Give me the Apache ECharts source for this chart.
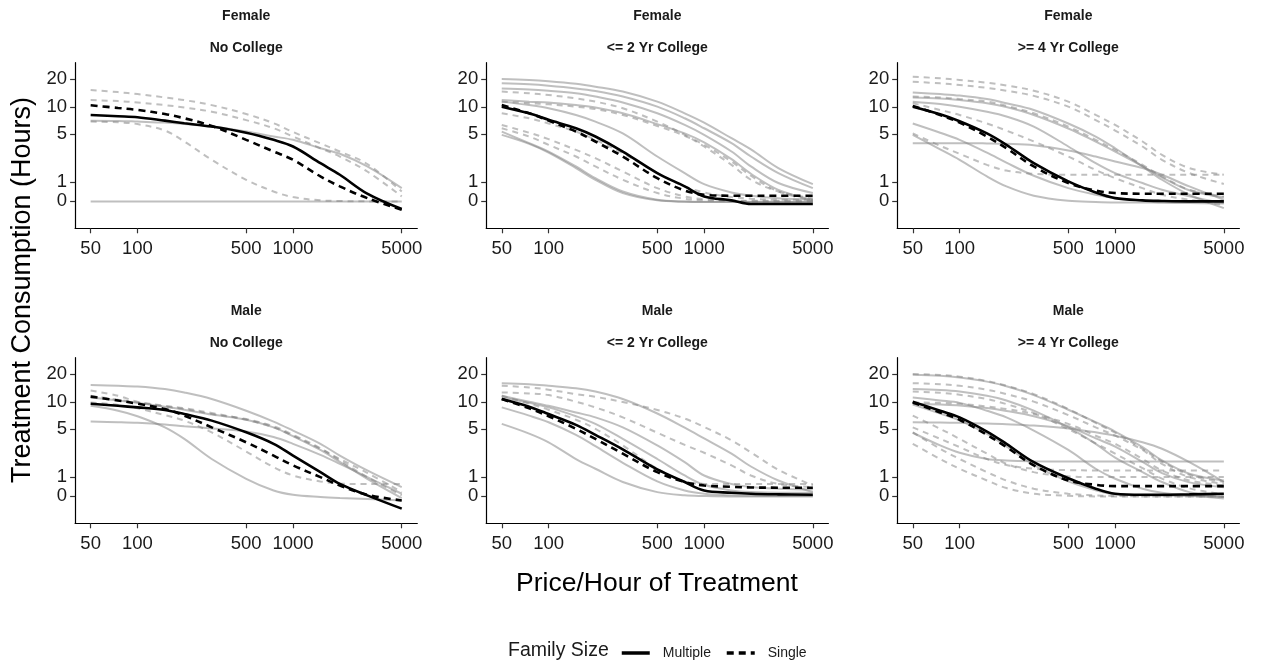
<!DOCTYPE html>
<html>
<head>
<meta charset="utf-8">
<script src="https://cdn.jsdelivr.net/npm/echarts@6/dist/echarts.min.js"></script>
<style>
  html, body { margin: 0; padding: 0; background: #fff; }
  #chart { width: 1261px; height: 664px; }
</style>
</head>
<body>
<div id="chart"></div>
<script>
// ---------------- DATA ----------------
const prices = [50, 75, 100, 150, 200, 300, 500, 750, 1000, 1500, 2000, 3000, 5000];
const xTickValues = [50, 100, 500, 1000, 5000];
const yTickValues = [0, 1, 5, 10, 20];
const sexLabels = ['Female', 'Male'];
const educationLabels = ['No College', '<= 2 Yr College', '>= 4 Yr College'];
const familySizes = ['Multiple', 'Single'];

// Female, No College
const femNoColMultiple = [8.2, 7.93, 7.74, 7.1, 6.65, 6.1, 5.2, 4.3, 3.58, 2.16, 1.4, 0.38, -0.38];
const femNoColSingle = [10.45, 9.78, 9.3, 8.4, 7.54, 6.2, 4.3, 3.1, 2.41, 1.3, 0.75, 0.16, -0.41];
const femNoColOthersMultiple = [
  [0, 0, 0, 0, 0, 0, 0, 0, 0, 0, 0, 0, 0],
  [7.1, 7.05, 6.93, 6.75, 6.5, 6.1, 5.36, 4.7, 4.3, 3.41, 2.9, 1.93, 0.66]
];
const femNoColOthersSingle = [
  [15.3, 14.5, 13.8, 12.7, 11.9, 10.5, 8.4, 6.65, 5.3, 3.9, 3.1, 2.1, 0.49],
  [11.9, 11.6, 11.2, 10.5, 9.9, 8.9, 7.2, 5.84, 4.7, 3.41, 2.67, 1.6, 0.245],
  [6.93, 6.8, 6.5, 5.5, 4.11, 2.41, 1.11, 0.49, 0.21, 0.05, 0.02, 0, 0]
];

// Female, <= 2 Yr College
const femLe2Multiple = [10.1, 8.55, 7.25, 5.84, 4.7, 3.1, 1.5, 0.75, 0.245, 0.05, -0.13, -0.13, -0.13];
const femLe2Single = [10.5, 8.55, 7.1, 5.36, 4.11, 2.67, 1.2, 0.54, 0.327, 0.28, 0.28, 0.28, 0.28];
const femLe2OthersMultiple = [
  [20, 19.6, 19.0, 17.8, 16.6, 14.7, 11.45, 8.55, 6.75, 4.49, 3.3, 1.82, 0.87],
  [18.1, 17.6, 17.0, 15.9, 14.9, 13.0, 10.1, 7.54, 5.84, 3.93, 2.67, 1.5, 0.66],
  [15.9, 15.5, 15.0, 14.1, 13.0, 11.2, 8.55, 6.36, 4.91, 3.1, 1.93, 0.93, 0.41],
  [11.9, 11.45, 11.2, 10.5, 9.9, 8.55, 6.5, 5.1, 4.0, 2.46, 1.46, 0.575, 0.08],
  [11.45, 10.5, 9.7, 8.2, 6.93, 5.1, 2.67, 1.5, 0.87, 0.44, 0.28, 0.15, 0.08],
  [5.36, 3.93, 3.1, 1.93, 1.2, 0.49, 0.08, 0, -0.02, -0.02, -0.02, -0.02, -0.02],
  [4.91, 3.85, 3.0, 1.82, 1.11, 0.41, 0.05, -0.02, -0.03, -0.03, -0.03, -0.03, -0.03]
];
const femLe2OthersSingle = [
  [14.7, 14.1, 13.5, 12.4, 11.45, 9.7, 6.93, 4.91, 3.58, 2.04, 1.11, 0.49, 0.16],
  [11.45, 11.0, 10.7, 10.1, 9.5, 8.2, 6.2, 4.8, 3.75, 2.28, 1.34, 0.49, 0.05],
  [8.55, 7.54, 6.6, 5.36, 4.3, 2.95, 1.5, 0.75, 0.44, 0.21, 0.13, 0.08, 0.08],
  [6.36, 5.2, 4.38, 3.25, 2.54, 1.6, 0.66, 0.245, 0.11, 0.05, 0.03, 0.03, 0.03],
  [5.84, 4.7, 3.75, 2.67, 1.93, 1.11, 0.41, 0.13, 0.05, 0.02, 0, 0, 0]
];

// Female, >= 4 Yr College
const femGe4Multiple = [10.1, 8.35, 7.0, 5.1, 3.75, 2.16, 1.02, 0.44, 0.16, 0.05, 0.02, 0, 0];
const femGe4Single = [10.3, 8.2, 6.75, 4.7, 3.41, 1.93, 0.93, 0.54, 0.41, 0.38, 0.38, 0.38, 0.38];
const femGe4OthersMultiple = [
  [14.4, 13.8, 13.3, 12.2, 11.0, 9.3, 6.6, 4.7, 3.41, 1.93, 1.11, 0.327, -0.33],
  [12.7, 12.4, 11.9, 11.0, 10.0, 8.2, 5.8, 4.1, 3.1, 1.95, 1.25, 0.55, 0.2],
  [11.45, 10.8, 10.1, 8.9, 7.9, 6.1, 3.58, 2.16, 1.5, 0.93, 0.575, 0.245, -0.08],
  [6.6, 5.2, 4.3, 3.0, 2.2, 1.34, 0.66, 0.327, 0.16, 0.05, 0, 0, 0],
  [3.93, 3.93, 3.93, 3.9, 3.86, 3.71, 3.2, 2.67, 2.28, 1.82, 1.4, 0.75, 0.08],
  [4.91, 3.3, 2.41, 1.3, 0.75, 0.28, 0.03, -0.03, -0.05, -0.05, -0.07, -0.08, -0.11]
];
const femGe4OthersSingle = [
  [21.2, 20.4, 19.6, 18.3, 17.1, 15.0, 11.45, 8.2, 6.36, 4.11, 2.81, 1.82, 1.4],
  [18.75, 18.0, 17.3, 16.1, 15.0, 13.2, 10.1, 7.2, 5.5, 3.58, 2.41, 1.5, 0.88],
  [13.0, 12.7, 12.2, 11.45, 10.3, 8.55, 6.1, 4.3, 3.25, 2.04, 1.3, 0.575, 0.245],
  [11.0, 9.3, 8.2, 6.6, 5.5, 4.11, 2.67, 1.7, 1.2, 0.66, 0.327, 0.08, -0.16],
  [5.1, 3.65, 2.9, 2.04, 1.66, 1.46, 1.4, 1.4, 1.4, 1.4, 1.4, 1.4, 1.4]
];

// Male, No College
const maleNoColMultiple = [9.6, 9.1, 8.75, 8.2, 7.4, 6.25, 4.6, 3.35, 2.35, 1.26, 0.62, 0.05, -0.61];
const maleNoColSingle = [11.45, 10.4, 9.6, 8.4, 7.1, 5.25, 3.5, 2.35, 1.67, 0.98, 0.54, 0.08, -0.2];
const maleNoColOthersMultiple = [
  [15.3, 15.0, 14.7, 13.8, 12.7, 10.8, 8.05, 6.1, 4.82, 3.35, 2.35, 1.36, 0.46],
  [11.2, 10.4, 9.8, 8.9, 8.25, 7.3, 6.4, 5.25, 4.15, 2.8, 1.9, 0.89, -0.08],
  [9.1, 8.05, 7.0, 5.25, 3.85, 2.1, 0.89, 0.29, 0.08, -0.03, -0.08, -0.13, -0.2],
  [6.1, 6.0, 5.9, 5.65, 5.4, 5.1, 4.7, 4.05, 3.35, 2.41, 1.77, 0.98, 0.13]
];
const maleNoColOthersSingle = [
  [13.3, 11.7, 10.1, 9.1, 8.55, 7.6, 6.4, 5.25, 4.2, 2.9, 2.1, 1.22, 0.21],
  [11.7, 10.6, 9.9, 8.95, 8.4, 7.4, 6.5, 5.4, 4.3, 2.95, 2.0, 0.98, 0.05],
  [9.9, 9.3, 8.55, 7.2, 6.25, 4.6, 2.67, 1.56, 1.07, 0.75, 0.64, 0.61, 0.61]
];

// Male, <= 2 Yr College
const maleLe2Multiple = [10.8, 8.9, 7.4, 5.6, 4.3, 2.85, 1.42, 0.72, 0.29, 0.18, 0.13, 0.1, 0.08];
const maleLe2Single = [10.8, 8.55, 7.0, 5.05, 3.85, 2.5, 1.26, 0.72, 0.54, 0.475, 0.44, 0.43, 0.43];
const maleLe2OthersMultiple = [
  [16.0, 15.6, 15.0, 14.1, 13.0, 10.8, 7.5, 5.2, 3.9, 2.5, 1.6, 0.8, 0.21],
  [11.7, 10.1, 9.1, 7.7, 6.8, 5.25, 3.2, 1.88, 1.07, 0.62, 0.46, 0.38, 0.34],
  [11.2, 9.8, 8.75, 7.0, 5.75, 3.85, 2.1, 1.07, 0.575, 0.29, 0.21, 0.18, 0.18],
  [8.75, 7.1, 6.0, 4.3, 3.13, 1.84, 0.75, 0.29, 0.13, 0.05, 0.03, 0.02, 0.02],
  [5.75, 4.45, 3.5, 2.1, 1.46, 0.72, 0.21, 0.05, 0.02, 0, 0, 0, 0]
];
const maleLe2OthersSingle = [
  [15.0, 14.4, 13.6, 12.2, 11.4, 10.0, 8.2, 6.6, 5.3, 3.7, 2.6, 1.4, 0.54],
  [12.7, 12.4, 11.9, 10.1, 8.75, 6.8, 4.55, 3.25, 2.57, 1.67, 1.07, 0.62, 0.46],
  [11.7, 9.6, 8.25, 6.4, 5.05, 3.2, 1.46, 0.75, 0.62, 0.61, 0.61, 0.61, 0.61]
];

// Male, >= 4 Yr College
const maleGe4Multiple = [10.1, 8.05, 6.8, 4.7, 3.35, 1.88, 0.92, 0.38, 0.13, 0.08, 0.08, 0.1, 0.13];
const maleGe4Single = [9.9, 7.7, 6.4, 4.3, 3.05, 1.67, 0.8, 0.575, 0.51, 0.51, 0.51, 0.51, 0.51];
const maleGe4OthersMultiple = [
  [19.7, 19.2, 18.4, 16.6, 14.8, 11.9, 8.25, 6.0, 4.7, 3.05, 2.0, 1.17, 0.8],
  [13.8, 13.5, 13.0, 11.7, 10.4, 8.05, 5.25, 3.35, 2.2, 1.26, 0.72, 0.21, -0.03],
  [11.2, 10.4, 9.8, 8.05, 6.8, 4.82, 2.8, 1.46, 0.89, 0.38, 0.18, 0.05, -0.03],
  [9.6, 9.4, 9.2, 8.6, 8.0, 7.0, 5.4, 3.9, 3.1, 1.9, 1.2, 0.7, 0.45],
  [6.0, 5.95, 5.9, 5.8, 5.7, 5.5, 5.1, 4.6, 4.2, 3.5, 2.9, 1.88, 0.72],
  [4.55, 3.2, 2.57, 2.1, 2.0, 1.95, 1.93, 1.93, 1.93, 1.93, 1.93, 1.93, 1.93],
  [9.4, 7.5, 6.3, 4.4, 3.1, 1.7, 0.75, 0.3, 0.1, 0.05, 0.03, 0.02, -0.1]
];
const maleGe4OthersSingle = [
  [20.0, 19.6, 18.75, 16.9, 15.0, 12.2, 8.4, 5.9, 4.55, 2.9, 1.93, 1.11, 0.72],
  [16.0, 15.6, 15.0, 13.6, 12.2, 10.1, 7.2, 5.25, 4.2, 2.8, 1.77, 0.98, 0.62],
  [13.0, 12.6, 12.0, 10.8, 9.5, 7.6, 5.0, 3.4, 2.5, 1.5, 0.9, 0.4, 0.1],
  [9.9, 9.8, 9.6, 8.95, 8.4, 7.4, 5.75, 4.2, 3.35, 2.1, 1.36, 0.8, 0.54],
  [7.1, 5.05, 3.85, 2.5, 1.77, 1.26, 1.03, 0.98, 0.98, 0.98, 0.98, 0.98, 0.98],
  [5.25, 3.85, 3.05, 2.1, 1.7, 1.46, 1.38, 1.36, 1.36, 1.36, 1.36, 1.36, 1.36],
  [4.6, 2.9, 2.1, 1.26, 0.8, 0.38, 0.13, 0.05, 0.02, 0, 0, 0, 0],
  [3.35, 2.1, 1.46, 0.8, 0.41, 0.13, 0.03, 0, 0, 0, 0, 0, 0]
];

// ---------------- BUILD ----------------
const panels = [
  { sex: 0, edu: 0, multiple: femNoColMultiple, single: femNoColSingle, othersM: femNoColOthersMultiple, othersS: femNoColOthersSingle },
  { sex: 0, edu: 1, multiple: femLe2Multiple, single: femLe2Single, othersM: femLe2OthersMultiple, othersS: femLe2OthersSingle },
  { sex: 0, edu: 2, multiple: femGe4Multiple, single: femGe4Single, othersM: femGe4OthersMultiple, othersS: femGe4OthersSingle },
  { sex: 1, edu: 0, multiple: maleNoColMultiple, single: maleNoColSingle, othersM: maleNoColOthersMultiple, othersS: maleNoColOthersSingle },
  { sex: 1, edu: 1, multiple: maleLe2Multiple, single: maleLe2Single, othersM: maleLe2OthersMultiple, othersS: maleLe2OthersSingle },
  { sex: 1, edu: 2, multiple: maleGe4Multiple, single: maleGe4Single, othersM: maleGe4OthersMultiple, othersS: maleGe4OthersSingle }
];

// pseudo-log transform (sigma = 1) for consumption, log10 for price
const yT = v => Math.asinh(v / 2);
const yInv = t => 2 * Math.sinh(t);
const xT = v => Math.log10(v);
const toPoints = vals => prices.map((p, i) => [xT(p), yT(vals[i])]);

const xMin = xT(50) - 0.1, xMax = xT(5000) + 0.1;
const yMin = -0.66, yMax = 3.40;

const colLeft = [75.1, 486.2, 897.2];
const plotW = 342.2;
const rowTop = [62.7, 357.7];
const plotH = 165.6;

const FONT = '"Liberation Sans", Arial, sans-serif';
const GRAY = 'rgba(128,128,128,0.5)';
const DASH_BLACK = [7, 5];
const DASH_GRAY = [6, 5];

const grids = [], xAxes = [], yAxes = [], series = [], graphics = [];

panels.forEach((pn, i) => {
  const col = pn.edu, row = pn.sex;
  grids.push({ left: colLeft[col], top: rowTop[row], width: plotW, height: plotH, containLabel: false });
  xAxes.push({
    type: 'value', gridIndex: i, min: xMin, max: xMax,
    axisLine: { show: true, onZero: false, lineStyle: { color: '#000', width: 1.2 } },
    axisTick: { show: true, length: 5, customValues: xTickValues.map(xT), lineStyle: { color: '#333', width: 1.2 } },
    axisLabel: {
      customValues: xTickValues.map(xT),
      formatter: v => String(Math.round(Math.pow(10, v))),
      fontSize: 18.5, color: '#1a1a1a', fontFamily: FONT, margin: 11
    },
    splitLine: { show: false }
  });
  yAxes.push({
    type: 'value', gridIndex: i, min: yMin, max: yMax,
    axisLine: { show: true, onZero: false, lineStyle: { color: '#000', width: 1.2 } },
    axisTick: { show: true, length: 5, customValues: yTickValues.map(yT), lineStyle: { color: '#333', width: 1.2 } },
    axisLabel: {
      customValues: yTickValues.map(yT),
      formatter: v => String(Math.round(yInv(v))),
      fontSize: 18.5, color: '#1a1a1a', fontFamily: FONT, margin: 8
    },
    splitLine: { show: false }
  });

  pn.othersM.forEach((vals, k) => series.push({
    type: 'line', name: 'other-m-' + i + '-' + k, xAxisIndex: i, yAxisIndex: i,
    data: toPoints(vals), smooth: 0.35, symbol: 'none', silent: true, z: 2,
    lineStyle: { color: GRAY, width: 2, type: 'solid' }
  }));
  pn.othersS.forEach((vals, k) => series.push({
    type: 'line', name: 'other-s-' + i + '-' + k, xAxisIndex: i, yAxisIndex: i,
    data: toPoints(vals), smooth: 0.35, symbol: 'none', silent: true, z: 2,
    lineStyle: { color: GRAY, width: 2, type: DASH_GRAY }
  }));
  series.push({
    type: 'line', name: familySizes[0], xAxisIndex: i, yAxisIndex: i,
    data: toPoints(pn.multiple), smooth: 0.35, symbol: 'none', silent: true, z: 5,
    itemStyle: { color: '#000' },
    lineStyle: { color: '#000', width: 2.6, type: 'solid' }
  });
  series.push({
    type: 'line', name: familySizes[1], xAxisIndex: i, yAxisIndex: i,
    data: toPoints(pn.single), smooth: 0.35, symbol: 'none', silent: true, z: 5,
    itemStyle: { color: '#000' },
    lineStyle: { color: '#000', width: 2.6, type: DASH_BLACK }
  });

  const cx = colLeft[col] + plotW / 2;
  const baseY = row === 0 ? 0 : 295;
  graphics.push({ type: 'text', x: cx, y: baseY + 16, style: { text: sexLabels[pn.sex], font: 'bold 14px ' + FONT, fill: '#1a1a1a', textAlign: 'center', textVerticalAlign: 'middle' } });
  graphics.push({ type: 'text', x: cx, y: baseY + 48, style: { text: educationLabels[pn.edu], font: 'bold 14px ' + FONT, fill: '#1a1a1a', textAlign: 'center', textVerticalAlign: 'middle' } });
});

graphics.push({ type: 'text', x: 23, y: 290, rotation: Math.PI / 2,
  style: { text: 'Treatment Consumption (Hours)', font: '27px ' + FONT, fill: '#000', textAlign: 'center', textVerticalAlign: 'middle' } });
graphics.push({ type: 'text', x: 657, y: 584,
  style: { text: 'Price/Hour of Treatment', font: '26.5px ' + FONT, fill: '#000', textAlign: 'center', textVerticalAlign: 'middle' } });
graphics.push({ type: 'text', x: 508, y: 651,
  style: { text: 'Family Size', font: '19.5px ' + FONT, fill: '#1a1a1a', textAlign: 'left', textVerticalAlign: 'middle' } });

const chart = echarts.init(document.getElementById('chart'), null, { renderer: 'canvas' });
chart.setOption({
  animation: false,
  backgroundColor: '#fff',
  grid: grids,
  xAxis: xAxes,
  yAxis: yAxes,
  legend: {
    data: familySizes,
    left: 615, top: 641,
    itemWidth: 28, itemHeight: 14, itemGap: 14,
    itemStyle: { opacity: 0, borderWidth: 0 },
    lineStyle: { width: 3.5 },
    textStyle: { fontSize: 14, fontFamily: FONT, color: '#1a1a1a', padding: [0, 0, 0, 8] },
    selectedMode: false
  },
  series: series,
  graphic: graphics
});
</script>
</body>
</html>
